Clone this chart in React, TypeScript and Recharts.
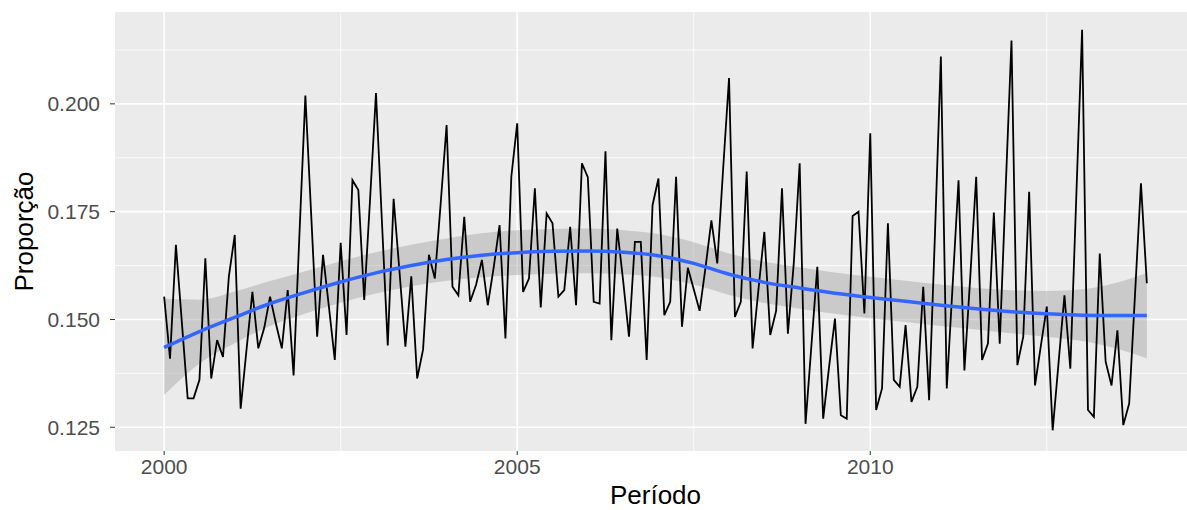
import React from 'react';
import { ComposedChart, Line, Area, XAxis, YAxis, CartesianGrid, Label } from 'recharts';

const START_YEAR = 2000;

// Monthly proportion, Jan 2000 .. Dec 2013
const proportion = [
  0.1553, 0.1409, 0.1673, 0.1495, 0.1317, 0.1317, 0.1360, 0.1642, 0.1363, 0.1452, 0.1413, 0.1600,
  0.1696, 0.1293, 0.1430, 0.1564, 0.1433, 0.1480, 0.1553, 0.1490, 0.1433, 0.1568, 0.1370, 0.1700,
  0.2019, 0.1740, 0.1460, 0.1650, 0.1530, 0.1406, 0.1678, 0.1464, 0.1823, 0.1800, 0.1545, 0.1780,
  0.2025, 0.1730, 0.1440, 0.1780, 0.1610, 0.1437, 0.1600, 0.1363, 0.1430, 0.1650, 0.1595, 0.1770,
  0.1951, 0.1576, 0.1556, 0.1738, 0.1541, 0.1580, 0.1638, 0.1533, 0.1620, 0.1719, 0.1456, 0.1831,
  0.1955, 0.1564, 0.1595, 0.1804, 0.1528, 0.1746, 0.1723, 0.1553, 0.1568, 0.1715, 0.1533, 0.1862,
  0.1830, 0.1541, 0.1537, 0.1890, 0.1452, 0.1711, 0.1590, 0.1460, 0.1680, 0.1680, 0.1406, 0.1765,
  0.1827, 0.1510, 0.1541, 0.1831, 0.1483, 0.1620, 0.1570, 0.1520, 0.1620, 0.1730, 0.1630, 0.1850,
  0.2060, 0.1506, 0.1541, 0.1843, 0.1433, 0.1570, 0.1703, 0.1464, 0.1520, 0.1804, 0.1467, 0.1630,
  0.1862, 0.1258, 0.1440, 0.1622, 0.1270, 0.1390, 0.1502, 0.1278, 0.1270, 0.1740, 0.1750, 0.1514,
  0.1932, 0.1290, 0.1340, 0.1723, 0.1360, 0.1344, 0.1487, 0.1309, 0.1344, 0.1576, 0.1313, 0.1700,
  0.2110, 0.1340, 0.1580, 0.1823, 0.1382, 0.1600, 0.1831, 0.1406, 0.1444, 0.1748, 0.1444, 0.1800,
  0.2147, 0.1394, 0.1460, 0.1796, 0.1347, 0.1440, 0.1530, 0.1243, 0.1400, 0.1556, 0.1386, 0.1780,
  0.2172, 0.1290, 0.1274, 0.1653, 0.1402, 0.1347, 0.1475, 0.1255, 0.1305, 0.1560, 0.1816, 0.1584,
];

// Smoothed trend (loess) and its confidence band
const smoothX = [
  2000.0, 2000.5, 2001.0, 2001.5, 2002.0, 2002.5, 2003.0, 2003.5, 2004.0, 2004.5,
  2005.0, 2005.5, 2006.0, 2006.5, 2007.0, 2007.5, 2008.0, 2008.5, 2009.0, 2009.5,
  2010.0, 2010.5, 2011.0, 2011.5, 2012.0, 2012.5, 2013.0, 2013.5, 2013.917,
];
const smoothFit = [
  0.1435, 0.1472, 0.1505, 0.1537, 0.1563, 0.1587, 0.1608, 0.1625, 0.1639, 0.1649,
  0.1655, 0.1658, 0.1659, 0.1656, 0.1648, 0.1630, 0.1605, 0.1586, 0.1573, 0.1561,
  0.1551, 0.1542, 0.1533, 0.1525, 0.1518, 0.1513, 0.1510, 0.1509, 0.1509,
];
const smoothLo = [
  0.1325, 0.1398, 0.1445, 0.1485, 0.1514, 0.1539, 0.1560, 0.1577, 0.1590, 0.1598,
  0.1603, 0.1606, 0.1607, 0.1605, 0.1598, 0.1581, 0.1557, 0.1538, 0.1525, 0.1513,
  0.1503, 0.1494, 0.1485, 0.1477, 0.1468, 0.1460, 0.1450, 0.1432, 0.1410,
];
const smoothHi = [
  0.1548, 0.1546, 0.1565, 0.1589, 0.1612, 0.1635, 0.1656, 0.1673, 0.1688, 0.1700,
  0.1707, 0.1710, 0.1711, 0.1707, 0.1698, 0.1679, 0.1653, 0.1634, 0.1621, 0.1609,
  0.1599, 0.1590, 0.1581, 0.1573, 0.1568, 0.1566, 0.1570, 0.1586, 0.1608,
];

const xTicks = [2000, 2005, 2010];
const xMinor = [2002.5, 2007.5, 2012.5];
const yTicks = [0.125, 0.15, 0.175, 0.2];
const yMinor = [0.1375, 0.1625, 0.1875, 0.2125];

const seriesData = proportion.map((v, i) => ({ x: START_YEAR + i / 12, v }));
const bandData = smoothX.map((x, i) => ({ x, band: [smoothLo[i], smoothHi[i]] }));
const fitData = smoothX.map((x, i) => ({ x, fit: smoothFit[i] }));

const FONT = '"Liberation Sans", Arial, Helvetica, sans-serif';

export default function App() {
  return (
    <div style={{ position: 'absolute', left: 0, top: 0, width: 1187, height: 510, overflow: 'hidden', background: '#ffffff' }}>
      <ComposedChart width={1196} height={510} data={seriesData} margin={{ top: 12, right: 0, bottom: 0, left: 0 }}>
        <CartesianGrid fill="#EBEBEB" stroke="#FFFFFF" strokeWidth={0.8} horizontalValues={yMinor} verticalValues={xMinor} />
        <CartesianGrid stroke="#FFFFFF" strokeWidth={1.6} horizontalValues={yTicks} verticalValues={xTicks} />
        <XAxis
          type="number"
          dataKey="x"
          domain={[1999.304, 2014.613]}
          ticks={xTicks}
          allowDataOverflow
          axisLine={false}
          tickSize={4}
          tickMargin={4}
          tickLine={{ stroke: '#333333' }}
          tick={{ fill: '#4D4D4D', fontSize: 21, fontFamily: FONT }}
          height={59}
        >
          <Label value="Período" position="insideBottom" offset={6} style={{ fontSize: 26, fill: '#000000', fontFamily: FONT }} />
        </XAxis>
        <YAxis
          type="number"
          domain={[0.1195, 0.2213]}
          ticks={yTicks}
          allowDataOverflow
          width={115}
          axisLine={false}
          tickSize={5}
          tickMargin={10}
          tickLine={{ stroke: '#333333' }}
          tick={{ fill: '#4D4D4D', fontSize: 21, fontFamily: FONT }}
          tickFormatter={(v: number) => v.toFixed(3)}
        >
          <Label value="Proporção" angle={-90} position="insideLeft" offset={24} style={{ fontSize: 26, fill: '#000000', fontFamily: FONT, textAnchor: 'middle' }} />
        </YAxis>
        <Area data={bandData} dataKey="band" type="monotone" fill="#999999" fillOpacity={0.4} stroke="none" isAnimationActive={false} />
        <Line dataKey="v" type="linear" stroke="#000000" strokeWidth={1.8} dot={false} isAnimationActive={false} />
        <Line data={fitData} dataKey="fit" type="monotone" stroke="#3366FF" strokeWidth={3.5} dot={false} isAnimationActive={false} />
      </ComposedChart>
    </div>
  );
}
